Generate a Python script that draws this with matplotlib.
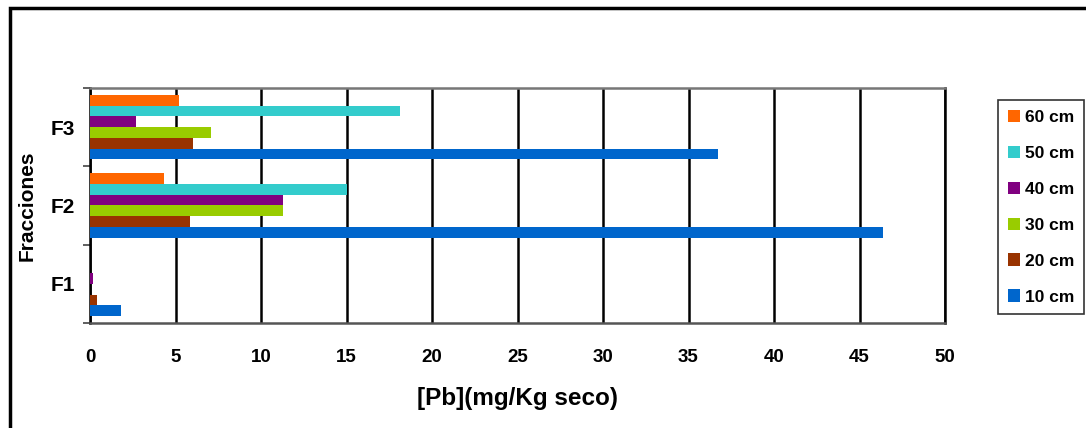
import matplotlib.pyplot as plt
import matplotlib.patches as mpatches
import numpy as np

plt.rcParams['font.family'] = ['Liberation Sans', 'DejaVu Sans']
plt.rcParams['font.weight'] = 'bold'

categories = ['F1', 'F2', 'F3']
series = ['10 cm', '20 cm', '30 cm', '40 cm', '50 cm', '60 cm']
values = {
    '10 cm': [1.8, 46.4, 36.7],
    '20 cm': [0.4, 5.85, 6.0],
    '30 cm': [0.0, 11.3, 7.1],
    '40 cm': [0.2, 11.3, 2.7],
    '50 cm': [0.0, 15.0, 18.1],
    '60 cm': [0.0, 4.3, 5.2],
}
colors = ['#0066CC', '#993300', '#99CC00', '#800080', '#33CCCC', '#FF6600']
xticks = [0, 5, 10, 15, 20, 25, 30, 35, 40, 45, 50]

W, H = 1086, 428
fig = plt.figure(figsize=(W / 100, H / 100), dpi=100)
ax = fig.add_axes([90 / W, 1 - 323 / H, (945 - 90) / W, (323 - 88) / H])

n = len(series)
group = 0.82
h = group / n
y = np.arange(len(categories))
for i, (s, c) in enumerate(zip(series, colors)):
    offs = -group / 2 + h * (i + 0.5)
    ax.barh(y + offs, values[s], height=h, color=c, label=s, zorder=3)

ax.set_xlim(0, 50)
ax.set_ylim(-0.5, len(categories) - 0.5)
ax.set_xticks(xticks)
ax.set_xticklabels([str(t) for t in xticks], fontsize=13.5, fontweight='bold')
ax.tick_params(axis='x', length=0, pad=19)
ax.set_yticks(y)
ax.set_yticklabels(categories, fontsize=15, fontweight='bold')
ax.tick_params(axis='y', which='major', length=0, pad=11)
ax.set_yticks(np.arange(-0.5, len(categories)), minor=True)
ax.tick_params(axis='y', which='minor', length=5, width=1.2, color='#444444')
ax.grid(axis='x', color='black', linewidth=1.8, zorder=1)
for sp in ax.spines.values():
    sp.set_linewidth(1.8)
    sp.set_color('black')
ax.spines['bottom'].set_color('#555555')
ax.spines['top'].set_color('#777777')

ax.set_xlabel('[Pb](mg/Kg seco)', fontsize=17.5, fontweight='bold', labelpad=15)
ax.set_ylabel('Fracciones', fontsize=15, fontweight='bold', labelpad=10)

handles, labels = ax.get_legend_handles_labels()
leg = fig.legend(handles[::-1], labels[::-1], loc='upper left',
                 bbox_to_anchor=(998 / W, 1 - 100 / H), frameon=True,
                 fancybox=False, edgecolor='black', fontsize=12.5,
                 handlelength=0.7, handleheight=0.7, handletextpad=0.3,
                 labelspacing=1.2, borderpad=0.55, borderaxespad=0)
leg.get_frame().set_linewidth(1.2)
for t in leg.get_texts():
    t.set_fontweight('bold')

# outer frame around the chart area
frame = mpatches.Rectangle((10 / W, -0.1), 1.2, 1 - 8 / H + 0.1,
                           transform=fig.transFigure, fill=False,
                           edgecolor='black', linewidth=2.5)
fig.patches.append(frame)

fig.savefig('out.png', dpi=100)
